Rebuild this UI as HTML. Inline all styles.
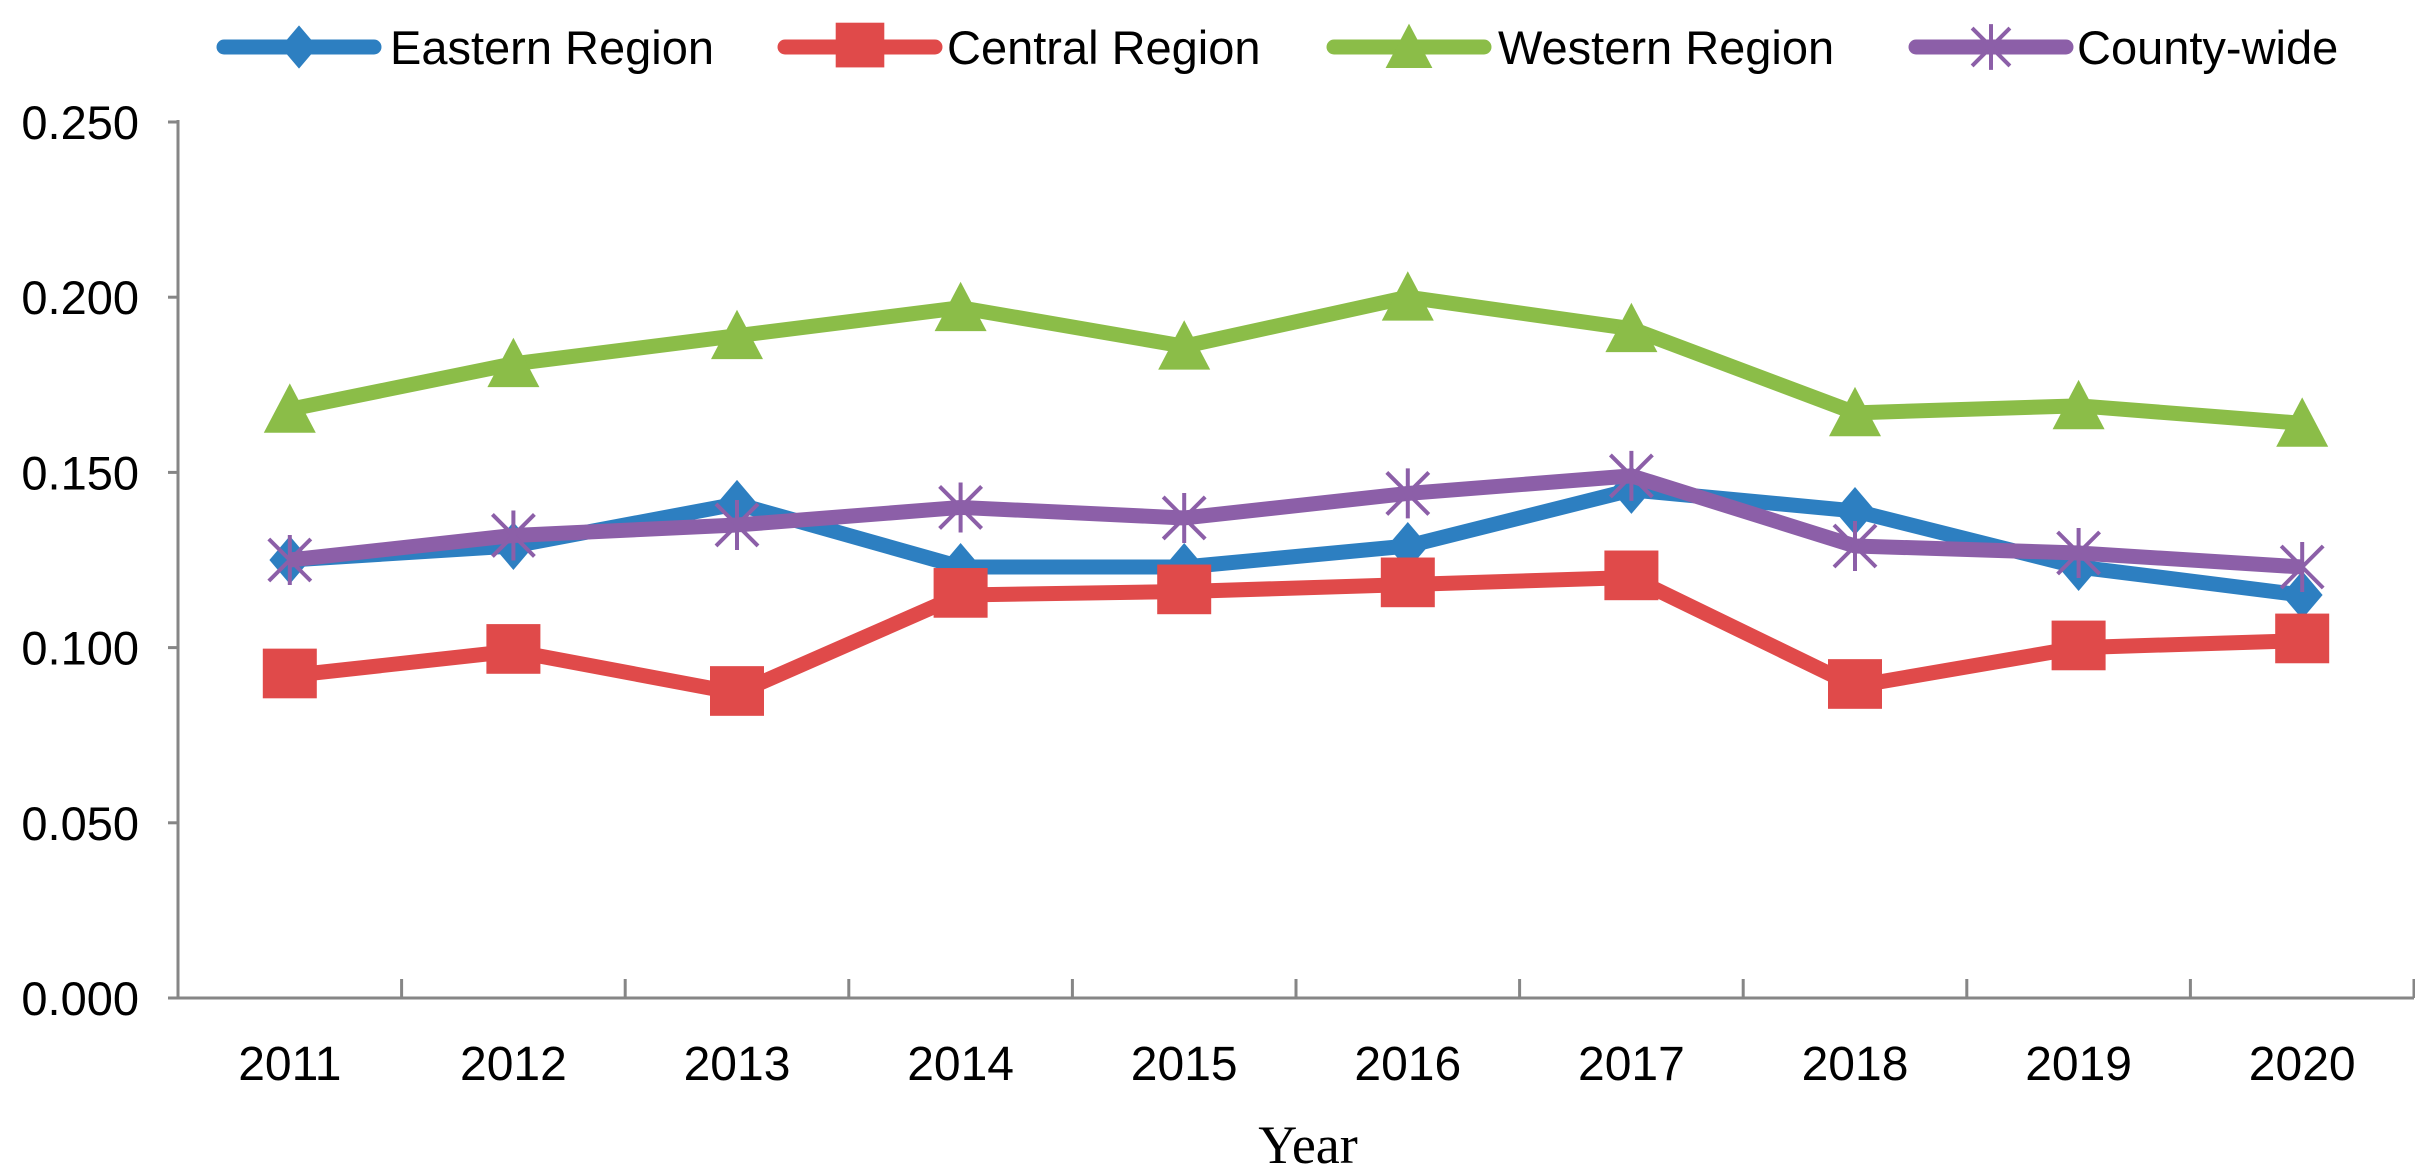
<!DOCTYPE html>
<html><head><meta charset="utf-8"><style>
html,body{margin:0;padding:0;background:#fff;}
svg{display:block;font-family:"Liberation Sans",sans-serif;}
</style></head><body>
<svg id="chart" width="2415" height="1167"></svg>
<script>
const categories=["2011","2012","2013","2014","2015","2016","2017","2018","2019","2020"];
const eastern=[0.125,0.129,0.141,0.123,0.123,0.129,0.145,0.139,0.123,0.115];
const central=[0.092,0.099,0.087,0.115,0.116,0.118,0.120,0.089,0.100,0.102];
const western=[0.168,0.181,0.189,0.197,0.186,0.200,0.191,0.167,0.169,0.164];
const county=[0.125,0.132,0.135,0.140,0.137,0.144,0.149,0.129,0.127,0.123];
const yTicks=[0,0.05,0.1,0.15,0.2,0.25];
const yTickLabels=["0.000","0.050","0.100","0.150","0.200","0.250"];
const seriesNames=["Eastern Region","Central Region","Western Region","County-wide"];

const NS="http://www.w3.org/2000/svg";
const svg=document.getElementById('chart');
const X0=178,X1=2414,Y0=998,Y1=122;
const band=(X1-X0)/categories.length;
function xs(i){return X0+band*(i+0.5);}
function ys(v){return Y0-(v/0.25)*(Y0-Y1);}
function mk(tag,attrs,parent){const e=document.createElementNS(NS,tag);for(const k in attrs)e.setAttribute(k,attrs[k]);(parent||svg).appendChild(e);return e;}

const axes=mk('g',{});


mk('line',{x1:X0,y1:Y1-2,x2:X0,y2:Y0,stroke:'#868686','stroke-width':3},axes);
mk('line',{x1:X0,y1:Y0,x2:X1,y2:Y0,stroke:'#868686','stroke-width':3},axes);
yTicks.forEach((t,i)=>{
  mk('line',{x1:X0-10,y1:ys(t),x2:X0,y2:ys(t),stroke:'#868686','stroke-width':3},axes);
  const tx=mk('text',{x:139,y:ys(t)+17,'text-anchor':'end','font-size':47,fill:'#000'},axes);
  tx.textContent=yTickLabels[i];
  
  
});
for(let i=1;i<=categories.length;i++){
  mk('line',{x1:X0+band*i,y1:Y0-19,x2:X0+band*i,y2:Y0,stroke:'#868686','stroke-width':3},axes);
}
categories.forEach((c,i)=>{
  const tx=mk('text',{x:xs(i),y:1080,'text-anchor':'middle','font-size':48,fill:'#000'},axes);
  tx.textContent=c;
  
  
});
const xt=mk('text',{x:1308,y:1163,'text-anchor':'middle','font-size':54,fill:'#000','font-family':'Liberation Serif, serif'});
xt.textContent='Year';



function marker(type,cx,cy,color,g,scale){
  scale=scale||1;
  if(type==='diamond'){const r=24*scale;mk('polygon',{points:`${cx},${cy-r} ${cx+r*0.85},${cy} ${cx},${cy+r} ${cx-r*0.85},${cy}`,fill:color},g);}
  else if(type==='square'){const s=54*scale;mk('rect',{x:cx-s/2,y:cy-s/2,width:s,height:s*0.92,fill:color},g);}
  else if(type==='triangle'){const r=26*scale;mk('polygon',{points:`${cx},${cy-r} ${cx+r},${cy+r*0.9} ${cx-r},${cy+r*0.9}`,fill:color},g);}
  else {const r=21*scale;mk('path',{d:`M${cx-r},${cy-r}L${cx+r},${cy+r}M${cx-r},${cy+r}L${cx+r},${cy-r}M${cx},${cy-r-4}L${cx},${cy+r+4}`,stroke:color,'stroke-width':4,fill:'none'},g);}
}
const series=[
 {data:eastern,color:'#2d7fc1',m:'diamond',name:'eastern'},
 {data:central,color:'#e04a4a',m:'square',name:'central'},
 {data:western,color:'#8bbd48',m:'triangle',name:'western'},
 {data:county,color:'#8c5fa8',m:'x',name:'county'}
];
series.forEach(s=>{
  const g=mk('g',{});
  
  
  const pts=s.data.map((v,i)=>xs(i)+','+ys(v)).join(' ');
  mk('polyline',{points:pts,fill:'none',stroke:s.color,'stroke-width':15,'stroke-linejoin':'round'},g);
  s.data.forEach((v,i)=>{
    const mg=mk('g',{},g);
    
    
    marker(s.m,xs(i),ys(v),s.color,mg);
  });
});
const legX=[[224,390],[785,947],[1334,1498],[1916,2077]];
series.forEach((s,i)=>{
  const g=mk('g',{});
  
  
  const [lx,tx]=legX[i];
  mk('line',{x1:lx,y1:47,x2:lx+150,y2:47,stroke:s.color,'stroke-width':15,'stroke-linecap':'round'},g);
  marker(s.m,lx+75,47,s.color,g,0.9);
  const t=mk('text',{x:tx,y:64,'font-size':47,fill:'#000'},g);
  t.textContent=seriesNames[i];
});
</script>
</body></html>
